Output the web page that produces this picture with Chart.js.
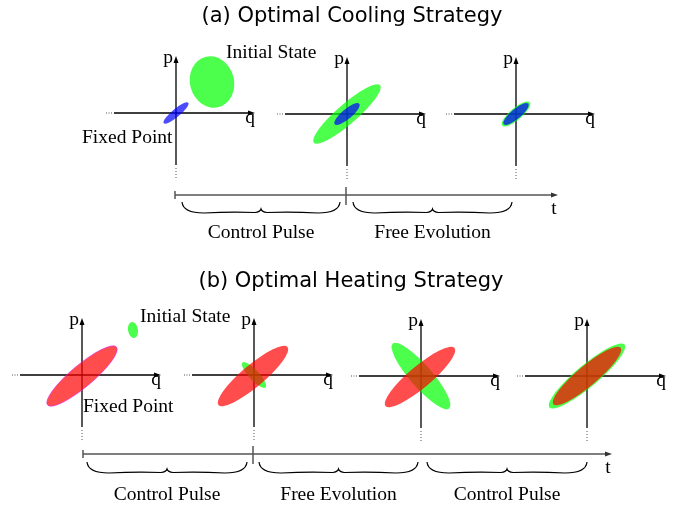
<!DOCTYPE html>
<html lang="en">
<head>
    <meta charset="UTF-8">
    <title>Optimal Cooling / Heating Strategy</title>
    <script src="https://cdn.jsdelivr.net/npm/chart.js"></script>
    <style>
        body { margin: 0; background: #fff; }
        #wrap { width: 685px; height: 509px; }
    </style>
</head>
<body>
    <div id="wrap"><canvas id="phaseChart" width="685" height="509"></canvas></div>

    <script>
        // texts
        var titles = ['(a) Optimal Cooling Strategy', '(b) Optimal Heating Strategy'];
        var stagesA = ['Control Pulse', 'Free Evolution'];
        var stagesB = ['Control Pulse', 'Free Evolution', 'Control Pulse'];

        // phase space states, one per snapshot: [q, p, semi-major, semi-minor, angle deg]
        var coolState = [[36, 31, 26, 22, 105], [0, 0, 44, 10, 41], [0, 0, 18, 6, 40]];   // green
        var coolFixed = [[0, 0, 16, 4, 40], [0, 0, 16, 5, 40], [0, 0, 16, 5, 40]];        // blue
        var heatState = [[51, 45, 8, 5, 100], [0, 0, 17, 5, -47], [0, 0, 43, 11, -49], [0, 0, 49, 11, 40]]; // green
        var heatFixed = [[0, -1, 45, 11, 40], [-1, -1, 45, 11, 40], [-1, -1, 45, 11, 40], [0, 0, 44, 10, 40]]; // red

        // layout (page coords)
        var W = 685, H = 509;
        var originsA = [[176, 113], [347, 114], [516, 114]];
        var originsB = [[82, 375], [254, 375], [421, 376], [587, 376]];
        var timeA = { y: 195, x0: 175, x1: 558, split: 346, braces: [[182, 340], [353, 512]], top: 202, label: 238 };
        var timeB = { y: 454, x0: 83, x1: 612, split: 253, braces: [[87, 247], [259, 418], [427, 587]], top: 462, label: 500 };

        var GREEN = 'rgba(0,255,0,0.7)', BLUE = 'rgba(0,0,255,0.7)', RED = 'rgba(255,0,0,0.7)';
        var SERIF = '19.5px "Liberation Serif", "DejaVu Serif", serif';

        var drawPlugin = {
            id: 'phaseDiagram',
            afterDatasetsDraw: function(chart) {
                var ctx = chart.ctx, sx = chart.scales.x, sy = chart.scales.y;
                var px = function(v) { return sx.getPixelForValue(v); };
                var py = function(v) { return sy.getPixelForValue(v); };

                function ellipse(o, s, fill, stroke) {
                    ctx.save();
                    ctx.beginPath();
                    ctx.ellipse(px(o[0] + s[0]), py(o[1] - s[1]),
                        Math.abs(px(s[2]) - px(0)), Math.abs(py(s[3]) - py(0)),
                        -s[4] * Math.PI / 180, 0, 2 * Math.PI);
                    ctx.fillStyle = fill;
                    ctx.fill();
                    if (stroke) { ctx.strokeStyle = stroke; ctx.lineWidth = 0.8; ctx.stroke(); }
                    ctx.restore();
                }

                function arrowHead(x, y, dir, color) {
                    ctx.fillStyle = color;
                    ctx.beginPath();
                    if (dir === 'right') {
                        ctx.moveTo(px(x), py(y));
                        ctx.lineTo(px(x - 7), py(y - 2.5));
                        ctx.lineTo(px(x - 7), py(y + 2.5));
                    } else {
                        ctx.moveTo(px(x), py(y));
                        ctx.lineTo(px(x - 2.5), py(y + 7));
                        ctx.lineTo(px(x + 2.5), py(y + 7));
                    }
                    ctx.closePath();
                    ctx.fill();
                }

                function axes(o) {
                    var ox = o[0], oy = o[1];
                    ctx.strokeStyle = '#000';
                    ctx.lineWidth = 1.3;
                    ctx.beginPath();
                    ctx.moveTo(px(ox - 62), py(oy));
                    ctx.lineTo(px(ox + 76), py(oy));
                    ctx.moveTo(px(ox), py(oy + 52));
                    ctx.lineTo(px(ox), py(oy - 52));
                    ctx.stroke();
                    arrowHead(ox + 79, oy, 'right', '#000');
                    arrowHead(ox, oy - 57, 'up', '#000');
                    ctx.fillStyle = '#555';
                    [70, 67.5, 65].forEach(function(d) { ctx.fillRect(px(ox - d), py(oy) - 0.5, 1, 1); });
                    [55, 58, 61, 64].forEach(function(d) { ctx.fillRect(px(ox) - 0.5, py(oy + d), 1, 1); });
                    ctx.fillStyle = '#000';
                    ctx.font = SERIF;
                    ctx.textAlign = 'center';
                    ctx.textBaseline = 'alphabetic';
                    ctx.fillText('p', px(ox - 8), py(oy - 50));
                    ctx.fillText('q', px(ox + 74), py(oy + 10));
                }

                function brace(x0, x1, top) {
                    var xm = (x0 + x1) / 2, b = top + 11;
                    ctx.strokeStyle = '#000';
                    ctx.lineWidth = 1.2;
                    ctx.beginPath();
                    ctx.moveTo(px(x0), py(top));
                    ctx.quadraticCurveTo(px(x0 + 1), py(b), px(x0 + 22), py(b));
                    ctx.quadraticCurveTo(px(xm - 30), py(b - 1.5), px(xm - 6), py(b - 0.5));
                    ctx.quadraticCurveTo(px(xm - 1), py(b - 1), px(xm), py(b - 4));
                    ctx.quadraticCurveTo(px(xm + 1), py(b - 1), px(xm + 6), py(b - 0.5));
                    ctx.quadraticCurveTo(px(xm + 30), py(b - 1.5), px(x1 - 22), py(b));
                    ctx.quadraticCurveTo(px(x1 - 1), py(b), px(x1), py(top));
                    ctx.stroke();
                }

                function timeline(t, labels) {
                    ctx.strokeStyle = '#555';
                    ctx.lineWidth = 1.5;
                    ctx.beginPath();
                    ctx.moveTo(px(t.x0), py(t.y));
                    ctx.lineTo(px(t.x1 - 5), py(t.y));
                    ctx.moveTo(px(t.x0), py(t.y - 4));
                    ctx.lineTo(px(t.x0), py(t.y + 4));
                    ctx.moveTo(px(t.split), py(t.y - 8));
                    ctx.lineTo(px(t.split), py(t.y + 10));
                    ctx.stroke();
                    arrowHead(t.x1, t.y, 'right', '#333');
                    ctx.fillStyle = '#000';
                    ctx.font = SERIF;
                    ctx.textAlign = 'center';
                    ctx.textBaseline = 'alphabetic';
                    ctx.fillText('t', px(t.x1 - 4), py(t.y + 19));
                    t.braces.forEach(function(br, i) {
                        brace(br[0], br[1], t.top);
                        ctx.fillText(labels[i], px((br[0] + br[1]) / 2), py(t.label));
                    });
                }

                ctx.save();
                // titles
                ctx.fillStyle = '#000';
                ctx.font = '21px "DejaVu Sans", sans-serif';
                ctx.textAlign = 'center';
                ctx.textBaseline = 'alphabetic';
                ctx.fillText(titles[0], px(352), py(22));
                ctx.fillText(titles[1], px(351), py(287));

                // (a) cooling
                originsA.forEach(function(o, i) {
                    axes(o);
                    ellipse(o, coolState[i], GREEN);
                    ellipse(o, coolFixed[i], BLUE);
                });
                // (b) heating
                originsB.forEach(function(o, i) {
                    axes(o);
                    ellipse(o, heatState[i], GREEN);
                    ellipse(o, heatFixed[i], RED, i === 0 ? 'rgba(230,40,230,0.8)' : null);
                });

                ctx.fillStyle = '#000';
                ctx.font = SERIF;
                ctx.textAlign = 'left';
                ctx.fillText('Initial State', px(226), py(58));
                ctx.fillText('Fixed Point', px(82), py(143));
                ctx.fillText('Initial State', px(140), py(322));
                ctx.fillText('Fixed Point', px(83), py(412));

                timeline(timeA, stagesA);
                timeline(timeB, stagesB);
                ctx.restore();
            }
        };

        var ctx = document.getElementById('phaseChart').getContext('2d');
        var phaseChart = new Chart(ctx, {
            type: 'scatter',
            data: {
                datasets: [{
                    label: 'states',
                    data: originsA.concat(originsB).map(function(o) { return { x: o[0], y: o[1] }; }),
                    pointRadius: 0
                }]
            },
            options: {
                responsive: false,
                devicePixelRatio: 1,
                animation: false,
                layout: { padding: 0 },
                plugins: { legend: { display: false }, tooltip: { enabled: false } },
                scales: {
                    x: { type: 'linear', min: 0, max: W, display: false },
                    y: { type: 'linear', min: 0, max: H, reverse: true, display: false }
                }
            },
            plugins: [drawPlugin]
        });
    </script>
</body>
</html>
